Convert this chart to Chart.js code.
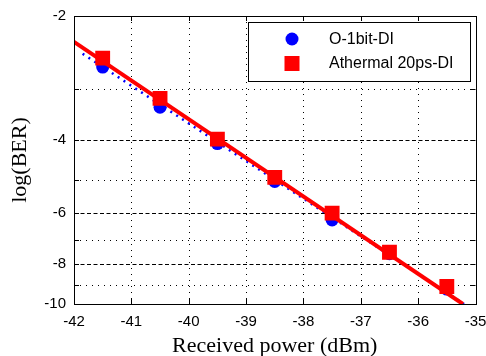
<!DOCTYPE html>
<html>
<head>
<meta charset="utf-8">
<script src="https://cdn.jsdelivr.net/npm/chart.js@4.4.1/dist/chart.umd.min.js"></script>
<style>
  html, body { margin: 0; padding: 0; background: #fff; }
  #wrap { width: 486px; height: 356px; }
</style>
</head>
<body>
<div id="wrap"><canvas id="ber" width="486" height="356"></canvas></div>
<script>
// measured points: log(BER) vs received power (dBm)
var powerPts = [-41.5, -40.5, -39.5, -38.5, -37.5, -36.5, -35.5];
var oneBitBer = [-2.66, -3.33, -4.08, -5.04, -6.25, -7.55, -9.2];
var athermalBer = [-2.53, -3.17, -3.98, -4.93, -6.02, -7.49, -9.07];

// fitted lines, end points
var oneBitFitX = [-41.85, -35.2];
var oneBitFitY = [-2.47, -10];
var athermalFitX = [-42, -35.22];
var athermalFitY = [-2.31, -10];

var seriesNames = ['O-1bit-DI', 'Athermal 20ps-DI'];
var xTicks = [-42, -41, -40, -39, -38, -37, -36, -35];
var yTicks = [-2, -3, -4, -5, -6, -7, -8, -9, -10];
var yLabelled = [-2, -4, -6, -8, -10];

var sansFont = "'Liberation Sans', Arial, sans-serif";
var serifFont = "'Liberation Serif', 'Times New Roman', serif";

// y axis is log(-log(BER)), so plot -v on a reversed log scale
function pairs(xs, ys) {
  var out = [];
  for (var i = 0; i < xs.length; i++) out.push({x: xs[i], y: -ys[i]});
  return out;
}

// grid lines: dashed at labelled y ticks, dotted elsewhere
var gridPlugin = {
  id: 'matlabGrid',
  beforeDatasetsDraw: function(chart) {
    var ctx = chart.ctx, a = chart.chartArea;
    var xs = chart.scales.x, ys = chart.scales.y;
    ctx.save();
    ctx.strokeStyle = '#000';
    ctx.lineWidth = 1;
    for (var i = 1; i < xTicks.length - 1; i++) {
      var px = Math.round(xs.getPixelForValue(xTicks[i])) + 0.5;
      ctx.setLineDash([1, 5]);
      ctx.beginPath(); ctx.moveTo(px, a.top); ctx.lineTo(px, a.bottom); ctx.stroke();
    }
    for (var j = 1; j < yTicks.length - 1; j++) {
      var py = Math.round(ys.getPixelForValue(-yTicks[j])) + 0.5;
      ctx.setLineDash(yLabelled.indexOf(yTicks[j]) >= 0 ? [4, 2.5] : [1, 5]);
      ctx.beginPath(); ctx.moveTo(a.left, py); ctx.lineTo(a.right, py); ctx.stroke();
    }
    ctx.restore();
  },
  afterDatasetsDraw: function(chart) {
    var ctx = chart.ctx, a = chart.chartArea;
    var xs = chart.scales.x, ys = chart.scales.y;
    ctx.save();
    ctx.strokeStyle = '#000';
    ctx.lineWidth = 1;
    ctx.setLineDash([]);
    // box
    ctx.strokeRect(Math.round(a.left) + 0.5, Math.round(a.top) + 0.5,
                   Math.round(a.right - a.left), Math.round(a.bottom - a.top));
    // inward tick marks
    ctx.beginPath();
    xTicks.forEach(function(v) {
      var px = Math.round(xs.getPixelForValue(v)) + 0.5;
      ctx.moveTo(px, a.bottom); ctx.lineTo(px, a.bottom - 5);
      ctx.moveTo(px, a.top); ctx.lineTo(px, a.top + 5);
    });
    yTicks.forEach(function(v) {
      var py = Math.round(ys.getPixelForValue(-v)) + 0.5;
      ctx.moveTo(a.left, py); ctx.lineTo(a.left + 5, py);
      ctx.moveTo(a.right, py); ctx.lineTo(a.right - 5, py);
    });
    ctx.stroke();

    // legend box
    var lx = 248.5, ly = 22.5, lw = 222, lh = 59;
    ctx.fillStyle = '#fff';
    ctx.fillRect(lx, ly, lw, lh);
    ctx.strokeRect(lx, ly, lw, lh);
    ctx.fillStyle = '#0000ff';
    ctx.beginPath(); ctx.arc(292, 39, 6.5, 0, Math.PI * 2); ctx.fill();
    ctx.fillStyle = '#ff0000';
    ctx.fillRect(284.5, 56, 15, 15);
    ctx.fillStyle = '#000';
    ctx.font = '16px ' + sansFont;
    ctx.textBaseline = 'middle';
    ctx.textAlign = 'left';
    ctx.fillText(seriesNames[0], 329, 40);
    ctx.fillText(seriesNames[1], 329, 64);
    ctx.restore();
  }
};

var chart = new Chart(document.getElementById('ber'), {
  type: 'scatter',
  data: {
    datasets: [
      {
        label: seriesNames[1],
        data: pairs(powerPts, athermalBer),
        backgroundColor: '#ff0000',
        borderColor: '#ff0000',
        pointStyle: 'rect',
        pointRadius: 10.5,
        borderWidth: 0,
        order: 0
      },
      {
        label: seriesNames[1] + ' fit',
        data: pairs(athermalFitX, athermalFitY),
        showLine: true,
        borderColor: '#ff0000',
        borderWidth: 4,
        pointRadius: 0,
        order: 1
      },
      {
        label: seriesNames[0],
        data: pairs(powerPts, oneBitBer),
        backgroundColor: '#0000ff',
        borderColor: '#0000ff',
        pointStyle: 'circle',
        pointRadius: 6.5,
        borderWidth: 0,
        order: 2
      },
      {
        label: seriesNames[0] + ' fit',
        data: pairs(oneBitFitX, oneBitFitY),
        showLine: true,
        borderColor: '#0000ff',
        borderWidth: 2.5,
        borderDash: [2, 5],
        pointRadius: 0,
        order: 3
      }
    ]
  },
  options: {
    responsive: false,
    animation: false,
    events: [],
    layout: { padding: { top: 16, right: 7, left: 0, bottom: 0 } },
    plugins: { legend: { display: false }, tooltip: { enabled: false } },
    scales: {
      x: {
        type: 'linear',
        min: -42,
        max: -35,
        afterBuildTicks: function(scale) {
          scale.ticks = xTicks.map(function(v) { return {value: v}; });
        },
        afterFit: function(scale) {
          scale.height = 52;
          scale.paddingLeft = 0;
          scale.paddingRight = 0;
        },
        grid: { display: false, drawTicks: false },
        border: { display: false },
        ticks: {
          color: '#000',
          padding: 9,
          maxRotation: 0,
          font: { family: sansFont, size: 15 },
          callback: function(v) { return String(v); }
        },
        title: {
          display: true,
          text: 'Received power (dBm)',
          color: '#000',
          font: { family: serifFont, size: 22 },
          padding: { top: 0, bottom: -3 }
        }
      },
      y: {
        type: 'logarithmic',
        reverse: true,
        min: 2,
        max: 10,
        afterBuildTicks: function(scale) {
          scale.ticks = yTicks.map(function(v) { return {value: -v}; });
        },
        afterFit: function(scale) {
          scale.width = 74;
          scale.paddingTop = 0;
          scale.paddingBottom = 0;
        },
        grid: { display: false, drawTicks: false },
        border: { display: false },
        ticks: {
          color: '#000',
          padding: 8,
          font: { family: sansFont, size: 15 },
          callback: function(v) {
            return yLabelled.indexOf(-v) >= 0 ? String(-v) : '';
          }
        },
        title: {
          display: true,
          text: 'log(BER)',
          color: '#000',
          font: { family: serifFont, size: 22 },
          padding: { top: 7, bottom: 0 }
        }
      }
    }
  },
  plugins: [gridPlugin]
});
</script>
</body>
</html>
